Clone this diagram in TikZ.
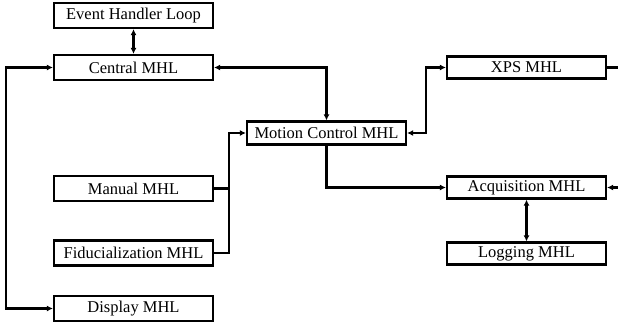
\documentclass[tikz,border=0pt]{standalone}
\usepackage{fontspec}
\setmainfont{Liberation Serif}
\usetikzlibrary{arrows.meta}
\begin{document}
\begin{tikzpicture}[x=1pt,y=-1pt,
  blk/.style={draw,line width=2.2pt,minimum width=159pt,inner sep=0pt,font=\fontsize{16.5}{18}\selectfont},
  lbox/.style={blk,minimum height=25pt},
  rbox/.style={blk,minimum height=22pt},
  conn/.style={line width=2.2pt,-{Latex[length=6pt,width=6pt]}},
  bconn/.style={line width=2.2pt,{Latex[length=6pt,width=6pt]}-{Latex[length=6pt,width=6pt]}},
  plain/.style={line width=2.2pt}]
\useasboundingbox (0,0) rectangle (618,327);
\node[lbox] (ehl) at (133.5,15.5) {Event Handler Loop};
\node[lbox] (cen) at (133.5,67.5) {Central MHL};
\node[rbox,minimum height=23pt,minimum width=159pt] (mot) at (326.5,133) {Motion Control MHL};
\node[rbox] (xps) at (526.5,67.5) {XPS MHL};
\node[rbox] (acq) at (526.5,187.5) {Acquisition MHL};
\node[rbox] (log) at (526.5,253.5) {Logging MHL};
\node[lbox] (man) at (133.5,188.5) {Manual MHL};
\node[lbox] (fid) at (133.5,253) {Fiducialization MHL};
\node[lbox] (dis) at (133.5,308.5) {Display MHL};
\coordinate (lx) at (6,0);
\coordinate (jx) at (229,0);
\coordinate (rx) at (426,0);
\coordinate (xend) at (618,67.5);
\coordinate (aend) at (618,187.5);
\draw[bconn] (ehl) -- (cen);
\draw[bconn] (log) -- (acq);
\draw[bconn] (cen.west) -- (cen.west -| lx) |- (dis.west);
\draw[bconn] (cen.east) -| (mot.north);
\draw[bconn] (mot.east) -- (mot.east -| rx) |- (xps.west);
\draw[conn] (mot.south) |- (acq.west);
\draw[plain] (xps.east) -- (xend);
\draw[conn] (aend) -- (acq.east);
\draw[plain] (man.east) -- (man.east -| jx);
\draw[conn] (fid.east) -- (fid.east -| jx) |- (mot.west);
\end{tikzpicture}
\end{document}
